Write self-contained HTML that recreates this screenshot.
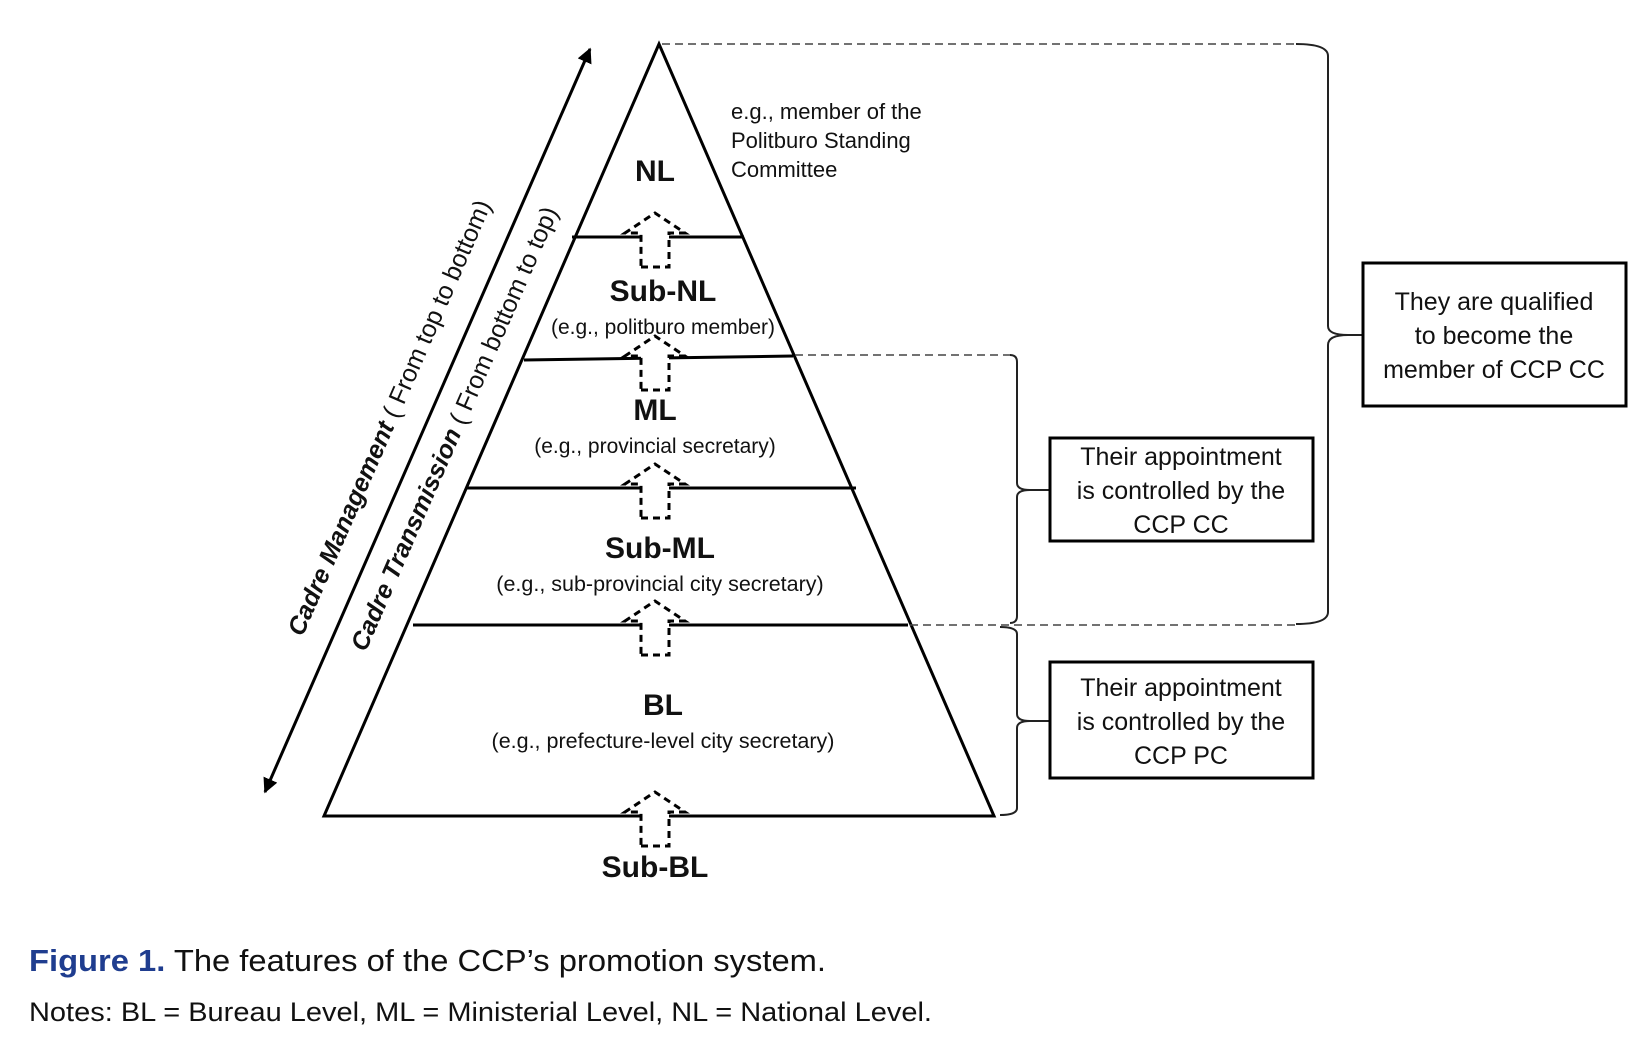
<!DOCTYPE html>
<html><head><meta charset="utf-8"><style>
html,body{margin:0;padding:0;background:#fff;}
svg{display:block;}
text{font-family:"Liberation Sans",sans-serif;fill:#111;}
</style></head><body>
<svg width="1644" height="1046" viewBox="0 0 1644 1046" xmlns="http://www.w3.org/2000/svg">
<defs>
<marker id="ah" viewBox="0 0 10 10" refX="9" refY="5" markerWidth="5" markerHeight="5" orient="auto-start-reverse"><path d="M0,0 L10,5 L0,10 z" fill="#000"/></marker>
<g id="arr"><path d="M-14,30 L14,30 L14,-4 L30,-4 L0,-24 L-30,-4 L-14,-4 Z" fill="#fff" stroke="#000" stroke-width="3" stroke-dasharray="7,5"/></g>
</defs>
<polygon points="659,44 324,816 994,816" fill="none" stroke="#000" stroke-width="3"/>
<g stroke="#000" stroke-width="3">
<line x1="572" y1="237" x2="744" y2="237"/>
<line x1="524" y1="360" x2="793" y2="356"/>
<line x1="467" y1="488" x2="856" y2="488"/>
<line x1="413" y1="625" x2="908" y2="625"/>
</g>
<use href="#arr" x="655" y="237"/>
<use href="#arr" x="655" y="360"/>
<use href="#arr" x="655" y="488"/>
<use href="#arr" x="655" y="625"/>
<use href="#arr" x="655" y="816"/>
<line x1="265" y1="792" x2="590" y2="49" stroke="#000" stroke-width="3" marker-start="url(#ah)" marker-end="url(#ah)"/>
<text transform="translate(397,421) rotate(-66.4)" text-anchor="middle" font-size="25" font-weight="bold" style="font-style:italic">Cadre Management<tspan font-weight="normal" font-style="normal"> ( From top to bottom)</tspan></text>
<text transform="translate(462,432) rotate(-66.4)" text-anchor="middle" font-size="25" font-weight="bold" style="font-style:italic">Cadre Transmission<tspan font-weight="normal" font-style="normal"> ( From bottom to top)</tspan></text>
<g text-anchor="middle">
<text x="655" y="181" font-size="30" font-weight="bold">NL</text>
<text x="663" y="301" font-size="30" font-weight="bold">Sub-NL</text>
<text x="663" y="334" font-size="21">(e.g., politburo member)</text>
<text x="655" y="420" font-size="30" font-weight="bold">ML</text>
<text x="655" y="453" font-size="21">(e.g., provincial secretary)</text>
<text x="660" y="558" font-size="30" font-weight="bold">Sub-ML</text>
<text x="660" y="591" font-size="21.5">(e.g., sub-provincial city secretary)</text>
<text x="663" y="715" font-size="30" font-weight="bold">BL</text>
<text x="663" y="748" font-size="21.5">(e.g., prefecture-level city secretary)</text>
<text x="655" y="877" font-size="30" font-weight="bold">Sub-BL</text>
</g>
<text font-size="22"><tspan x="731" y="119">e.g., member of the</tspan><tspan x="731" y="148">Politburo Standing</tspan><tspan x="731" y="177">Committee</tspan></text>
<g stroke="#444" stroke-width="1.5" stroke-dasharray="8,5" fill="none">
<line x1="662" y1="44" x2="1298" y2="44"/>
<line x1="795" y1="355" x2="1015" y2="355"/>
<line x1="910" y1="625" x2="1298" y2="625"/>
</g>
<g stroke="#222" stroke-width="2" fill="none">
<path d="M1296,44 Q1328,44 1328,56 L1328,326 Q1328,335 1348,335 Q1328,335 1328,345 L1328,612 Q1328,624 1296,624"/>
<line x1="1348" y1="335" x2="1363" y2="335"/>
<path d="M1010,355 Q1017,355 1017,362 L1017,483 Q1017,490 1030,490 Q1017,490 1017,497 L1017,616 Q1017,623 1010,623"/>
<line x1="1030" y1="490" x2="1050" y2="490"/>
<path d="M1000,627 Q1017,627 1017,634 L1017,714 Q1017,721 1030,721 Q1017,721 1017,728 L1017,808 Q1017,815 1000,815"/>
<line x1="1030" y1="721" x2="1050" y2="721"/>
</g>
<g fill="#fff" stroke="#000" stroke-width="3">
<rect x="1363" y="263" width="263" height="143"/>
<rect x="1050" y="438" width="263" height="103"/>
<rect x="1050" y="662" width="263" height="116"/>
</g>
<g text-anchor="middle" font-size="25">
<text x="1494" y="310">They are qualified</text>
<text x="1494" y="344">to become the</text>
<text x="1494" y="378">member of CCP CC</text>
<text x="1181" y="465">Their appointment</text>
<text x="1181" y="499">is controlled by the</text>
<text x="1181" y="533">CCP CC</text>
<text x="1181" y="696">Their appointment</text>
<text x="1181" y="730">is controlled by the</text>
<text x="1181" y="764">CCP PC</text>
</g>
<text x="29" y="971" font-size="31" textLength="797" lengthAdjust="spacingAndGlyphs"><tspan style="fill:#1f3d8f" font-weight="bold">Figure 1.</tspan> The features of the CCP’s promotion system.</text>
<text x="29" y="1021" font-size="27" textLength="903" lengthAdjust="spacingAndGlyphs">Notes: BL = Bureau Level, ML = Ministerial Level, NL = National Level.</text>
</svg>
</body></html>
